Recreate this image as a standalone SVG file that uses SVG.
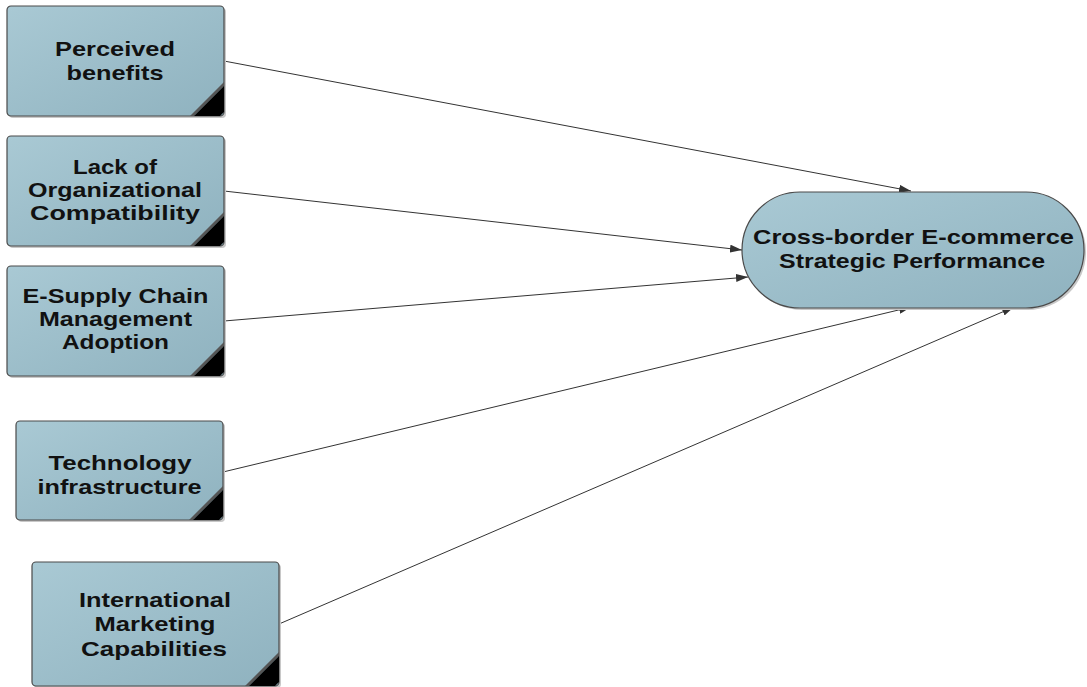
<svg xmlns="http://www.w3.org/2000/svg" width="1087" height="687" viewBox="0 0 1087 687">
<defs>
<linearGradient id="g" x1="0" y1="0" x2="1" y2="1">
<stop offset="0" stop-color="#a9c9d4"/>
<stop offset="1" stop-color="#8fb2bf"/>
</linearGradient>
<marker id="ah" viewBox="0 0 12 8" refX="12" refY="4" markerWidth="12" markerHeight="8" markerUnits="userSpaceOnUse" orient="auto">
<path d="M0,0 L12,4 L0,8 Z" fill="#333"/>
</marker>
</defs>
<style>
.box{fill:url(#g);stroke:#4a4a4a;stroke-width:1.2}
.sh{fill:#c8c8c8}
.fold{fill:#000}
.band{fill:#555}
.t{font-family:"Liberation Sans",Arial,sans-serif;font-weight:bold;font-size:21px;fill:#111;text-anchor:middle}
.c{stroke:#333;stroke-width:1;fill:none;marker-end:url(#ah)}
</style>
<rect width="1087" height="687" fill="#fff"/>
<g id="connectors">
<line class="c" x1="224" y1="61" x2="911" y2="191"/>
<line class="c" x1="224" y1="191" x2="742" y2="250"/>
<line class="c" x1="224" y1="321" x2="748" y2="277"/>
<line class="c" x1="223" y1="472" x2="911" y2="307"/>
<line class="c" x1="279" y1="624" x2="1014" y2="307"/>
</g>
<g id="n1">
<rect class="sh" x="9" y="8" width="217" height="110" rx="4"/>
<rect class="box" x="7" y="6" width="217" height="110" rx="4"/>
<polygon class="band" points="190,116 224,82 224,86 194,116"/>
<polygon class="fold" points="194,116 224,86 224,112 220,116"/>
<text class="t" x="115" y="56" textLength="120" lengthAdjust="spacingAndGlyphs">Perceived</text>
<text class="t" x="115" y="80" textLength="97" lengthAdjust="spacingAndGlyphs">benefits</text>
</g>
<g id="n2">
<rect class="sh" x="9" y="138" width="217" height="110" rx="4"/>
<rect class="box" x="7" y="136" width="217" height="110" rx="4"/>
<polygon class="band" points="190,246 224,212 224,216 194,246"/>
<polygon class="fold" points="194,246 224,216 224,242 220,246"/>
<text class="t" x="115" y="174" textLength="84" lengthAdjust="spacingAndGlyphs">Lack of</text>
<text class="t" x="115" y="197" textLength="174" lengthAdjust="spacingAndGlyphs">Organizational</text>
<text class="t" x="115" y="220" textLength="170" lengthAdjust="spacingAndGlyphs">Compatibility</text>
</g>
<g id="n3">
<rect class="sh" x="9" y="268" width="217" height="110" rx="4"/>
<rect class="box" x="7" y="266" width="217" height="110" rx="4"/>
<polygon class="band" points="190,376 224,342 224,346 194,376"/>
<polygon class="fold" points="194,376 224,346 224,372 220,376"/>
<text class="t" x="115.5" y="303" textLength="186" lengthAdjust="spacingAndGlyphs">E-Supply Chain</text>
<text class="t" x="115.5" y="326" textLength="153" lengthAdjust="spacingAndGlyphs">Management</text>
<text class="t" x="115.5" y="349" textLength="107" lengthAdjust="spacingAndGlyphs">Adoption</text>
</g>
<g id="n4">
<rect class="sh" x="18" y="423" width="207" height="99" rx="4"/>
<rect class="box" x="16" y="421" width="207" height="99" rx="4"/>
<polygon class="band" points="189,520 223,486 223,490 193,520"/>
<polygon class="fold" points="193,520 223,490 223,516 219,520"/>
<text class="t" x="120" y="470" textLength="143" lengthAdjust="spacingAndGlyphs">Technology</text>
<text class="t" x="119.5" y="494" textLength="164" lengthAdjust="spacingAndGlyphs">infrastructure</text>
</g>
<g id="n5">
<rect class="sh" x="34" y="564" width="247" height="124" rx="4"/>
<rect class="box" x="32" y="562" width="247" height="124" rx="4"/>
<polygon class="band" points="245,686 279,652 279,656 249,686"/>
<polygon class="fold" points="249,686 279,656 279,682 275,686"/>
<text class="t" x="155" y="607" textLength="152" lengthAdjust="spacingAndGlyphs">International</text>
<text class="t" x="155" y="631" textLength="121" lengthAdjust="spacingAndGlyphs">Marketing</text>
<text class="t" x="154" y="656" textLength="146" lengthAdjust="spacingAndGlyphs">Capabilities</text>
</g>
<g id="target">
<rect class="sh" x="744" y="194" width="342" height="116" rx="58"/>
<rect class="box" x="742" y="192" width="342" height="116" rx="58"/>
<text class="t" x="913.5" y="244" textLength="321" lengthAdjust="spacingAndGlyphs">Cross-border E-commerce</text>
<text class="t" x="912" y="268" textLength="266" lengthAdjust="spacingAndGlyphs">Strategic Performance</text>
</g>
</svg>
